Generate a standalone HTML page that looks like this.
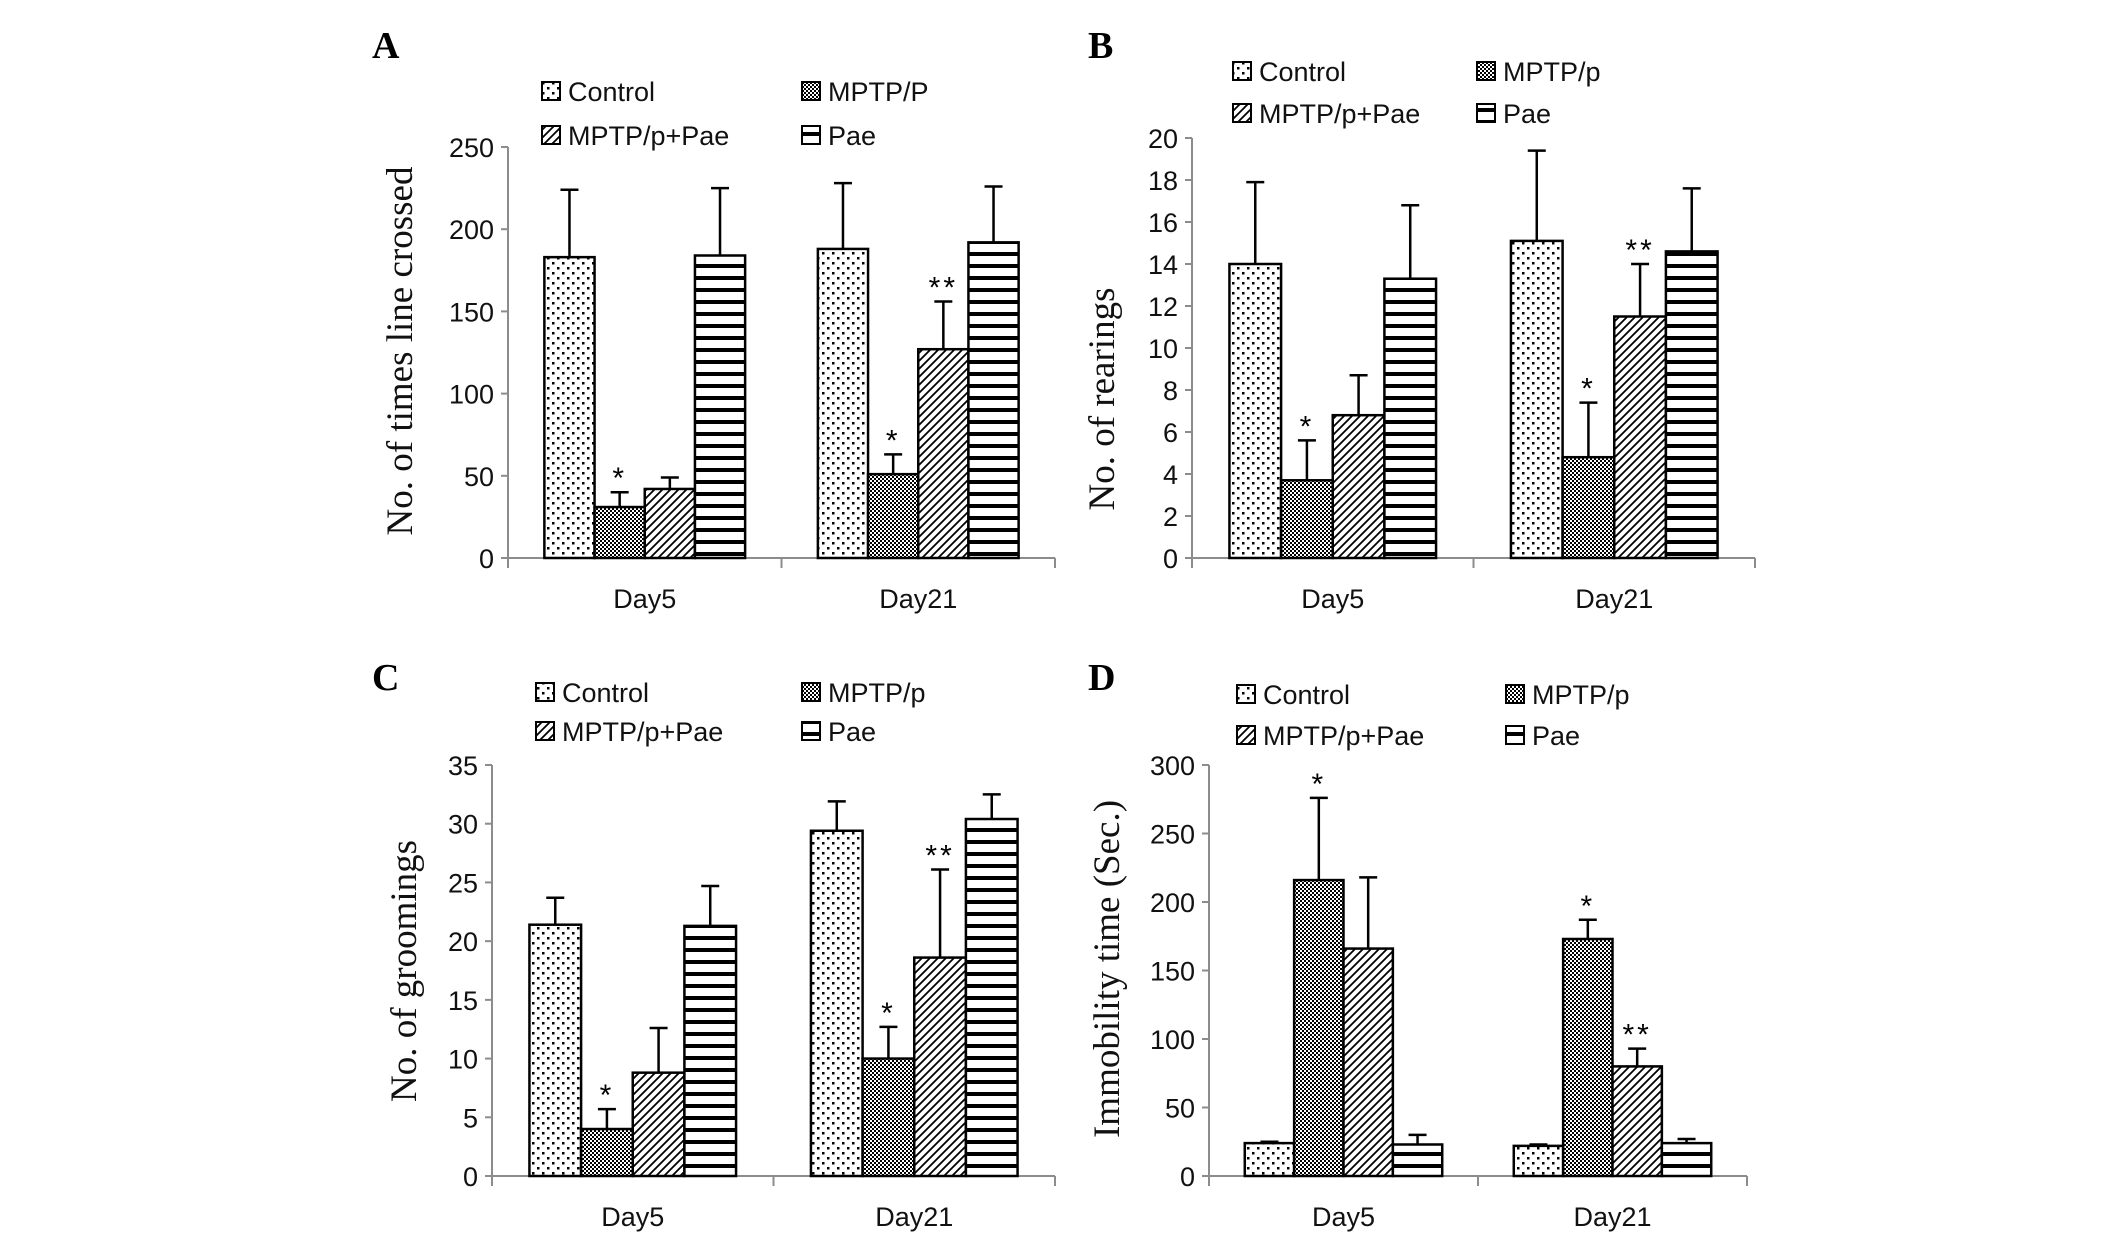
<!DOCTYPE html>
<html><head><meta charset="utf-8"><style>
html,body{margin:0;padding:0;background:#fff;}
svg{display:block;}
</style></head><body>
<svg id="fig" width="2126" height="1251" viewBox="0 0 2126 1251" xmlns="http://www.w3.org/2000/svg">
<defs>
<pattern id="pDots" width="10" height="10" patternUnits="userSpaceOnUse"><rect width="10" height="10" fill="#fff"/><rect x="2" y="2" width="2.5" height="2.5" fill="#000"/><rect x="7" y="7" width="2.5" height="2.5" fill="#000"/></pattern>
<pattern id="pCheck" width="4" height="4" patternUnits="userSpaceOnUse"><rect width="4" height="4" fill="#fff"/><rect width="2" height="2" fill="#000"/><rect x="2" y="2" width="2" height="2" fill="#000"/></pattern>
<pattern id="pDiag" width="8" height="8" patternUnits="userSpaceOnUse"><rect width="8" height="8" fill="#fff"/><path d="M-2,10 L10,-2 M-2,2 L2,-2 M6,10 L10,6" stroke="#000" stroke-width="1.8"/></pattern>
<pattern id="pHoriz" width="12" height="12" patternUnits="userSpaceOnUse"><rect width="12" height="12" fill="#fff"/><rect y="0" width="12" height="4" fill="#000"/></pattern>
</defs>
</svg>
<script>
const seriesNames = ["Control","MPTP/P","MPTP/p+Pae","Pae"];
const seriesNamesP = ["Control","MPTP/p","MPTP/p+Pae","Pae"];
const categories = ["Day5","Day21"];

const aTicks = [0,50,100,150,200,250];
const aValues = [[183,31,42,184],[188,51,127,192]];
const aErrTop = [[224,40,49,225],[228,63,156,226]];

const bTicks = [0,2,4,6,8,10,12,14,16,18,20];
const bValues = [[14,3.7,6.8,13.3],[15.1,4.8,11.5,14.6]];
const bErrTop = [[17.9,5.6,8.7,16.8],[19.4,7.4,14,17.6]];

const cTicks = [0,5,10,15,20,25,30,35];
const cValues = [[21.4,4,8.8,21.3],[29.4,10,18.6,30.4]];
const cErrTop = [[23.7,5.7,12.6,24.7],[31.9,12.7,26.1,32.5]];

const dTicks = [0,50,100,150,200,250,300];
const dValues = [[24,216,166,23],[22,173,80,24]];
const dErrTop = [[25,276,218,30],[23,187,93,27]];

const aStars = [[0,1,"*"],[1,1,"*"],[1,2,"**"]];
const bStars = [[0,1,"*"],[1,1,"*"],[1,2,"**"]];
const cStars = [[0,1,"*"],[1,1,"*"],[1,2,"**"]];
const dStars = [[0,1,"*"],[1,1,"*"],[1,2,"**"]];

const fills = ["url(#pDots)","url(#pCheck)","url(#pDiag)","url(#pHoriz)"];
const NS = "http://www.w3.org/2000/svg";
const svg = document.getElementById('fig');
function mk(tag, attrs, parent, text){
  const e = document.createElementNS(NS, tag);
  for (const k in attrs) e.setAttribute(k, attrs[k]);
  if (text !== undefined) e.textContent = text;
  (parent||svg).appendChild(e);
  return e;
}

function panel(cfg){
  const g = mk('g', {});
  
  
  const ymax = cfg.ticks[cfg.ticks.length-1];
  const yS = v => cfg.y0 - (v/ymax)*(cfg.y0-cfg.yTop);
  const catW = (cfg.xEnd - cfg.x0)/categories.length;
  const barW = catW*0.1835;
  const pad = (catW - 4*barW)/2;
  const xBar = (ci, si) => cfg.x0 + ci*catW + pad + si*barW;

  const lt = mk('text', {x:cfg.lx, y:cfg.ly, 'font-family':'Liberation Serif, serif', 'font-weight':'bold', 'font-size':38}, g, cfg.letter);
  
  

  const ax = mk('g', {}, g);
  
  
  mk('line', {x1:cfg.x0, y1:cfg.yTop, x2:cfg.x0, y2:cfg.y0+10, stroke:'#8c8c8c', 'stroke-width':2}, ax);
  cfg.ticks.forEach((t, i) => {
    const y = yS(t);
    mk('line', {x1:cfg.x0-7, y1:y, x2:cfg.x0, y2:y, stroke:'#8c8c8c', 'stroke-width':2}, ax);
    const tl = mk('text', {x:cfg.x0-14, y:y+10, 'text-anchor':'end', 'font-family':'Liberation Sans, sans-serif', 'font-size':27, fill:'#111'}, ax, String(t));
    
    
  });
  const xa = mk('g', {}, g);
  
  
  mk('line', {x1:cfg.x0, y1:cfg.y0, x2:cfg.xEnd, y2:cfg.y0, stroke:'#8c8c8c', 'stroke-width':2}, xa);
  for (let i=0;i<=categories.length;i++){
    const x = cfg.x0 + i*catW;
    mk('line', {x1:x, y1:cfg.y0, x2:x, y2:cfg.y0+10, stroke:'#8c8c8c', 'stroke-width':2}, xa);
  }
  categories.forEach((c, ci) => {
    const cl = mk('text', {x:cfg.x0 + ci*catW + catW/2, y:cfg.y0+50, 'text-anchor':'middle', 'font-family':'Liberation Sans, sans-serif', 'font-size':27, fill:'#111'}, xa, c);
    
    
  });

  const yt = mk('text', {x:0, y:0, transform:`translate(${cfg.tx},${cfg.ty}) rotate(-90)`, 'text-anchor':'middle', 'font-family':'Liberation Serif, serif', 'font-size':37, fill:'#111'}, g, cfg.title);
  
  

  categories.forEach((c, ci) => {
    for (let si=0; si<4; si++){
      const v = cfg.values[ci][si], e = cfg.err[ci][si];
      const x = xBar(ci, si);
      const cx = x + barW/2;
      const eb = mk('line', {x1:cx, y1:yS(v), x2:cx, y2:yS(e), stroke:'#000', 'stroke-width':2.5}, g);
      
      
      mk('line', {x1:cx-9, y1:yS(e), x2:cx+9, y2:yS(e), stroke:'#000', 'stroke-width':2.5}, g);
      const r = mk('rect', {x:x, y:yS(v), width:barW, height:cfg.y0-yS(v), fill:fills[si], stroke:'#000', 'stroke-width':2.5}, g);
      
      
    }
  });
  cfg.stars.forEach(s => {
    const [ci, si, txt] = s;
    const x = xBar(ci, si) + barW/2;
    const st = mk('text', {x:x, y:yS(cfg.err[ci][si]) - 4, 'text-anchor':'middle', 'font-family':'Liberation Sans, sans-serif', 'font-size':30, fill:'#000', 'letter-spacing':'3'}, g, txt);
    
    
  });

  const lg = mk('g', {}, g);
  
  
  const pos = [[cfg.lgx1, cfg.lgy1],[cfg.lgx2, cfg.lgy1],[cfg.lgx1, cfg.lgy2],[cfg.lgx2, cfg.lgy2]];
  for (let si=0; si<4; si++){
    const [x, y] = pos[si];
    const le = mk('g', {}, lg);
    
    
    mk('rect', {x:x-9, y:y-9, width:18, height:18, fill:fills[si], stroke:'#000', 'stroke-width':2}, le);
    mk('text', {x:x+17, y:y+10, 'font-family':'Liberation Sans, sans-serif', 'font-size':27, fill:'#111'}, le, cfg.names[si]);
  }
}

panel({letter:'A', lx:372, ly:58, x0:508, xEnd:1055, y0:558, yTop:147, ticks:aTicks, values:aValues, err:aErrTop, stars:aStars,
  title:'No. of  times line crossed', tx:412, ty:351, names:seriesNames, lgx1:551, lgx2:811, lgy1:91, lgy2:135});
panel({letter:'B', lx:1088, ly:58, x0:1192, xEnd:1755, y0:558, yTop:138, ticks:bTicks, values:bValues, err:bErrTop, stars:bStars,
  title:'No. of rearings', tx:1114, ty:399, names:seriesNamesP, lgx1:1242, lgx2:1486, lgy1:71, lgy2:113});
panel({letter:'C', lx:372, ly:690, x0:492, xEnd:1055, y0:1176, yTop:765, ticks:cTicks, values:cValues, err:cErrTop, stars:cStars,
  title:'No. of groomings', tx:416, ty:971, names:seriesNamesP, lgx1:545, lgx2:811, lgy1:692, lgy2:731});
panel({letter:'D', lx:1088, ly:690, x0:1209, xEnd:1747, y0:1176, yTop:765, ticks:dTicks, values:dValues, err:dErrTop, stars:dStars,
  title:'Immobility time (Sec.)', tx:1119, ty:969, names:seriesNamesP, lgx1:1246, lgx2:1515, lgy1:694, lgy2:735});
</script>
</body></html>
